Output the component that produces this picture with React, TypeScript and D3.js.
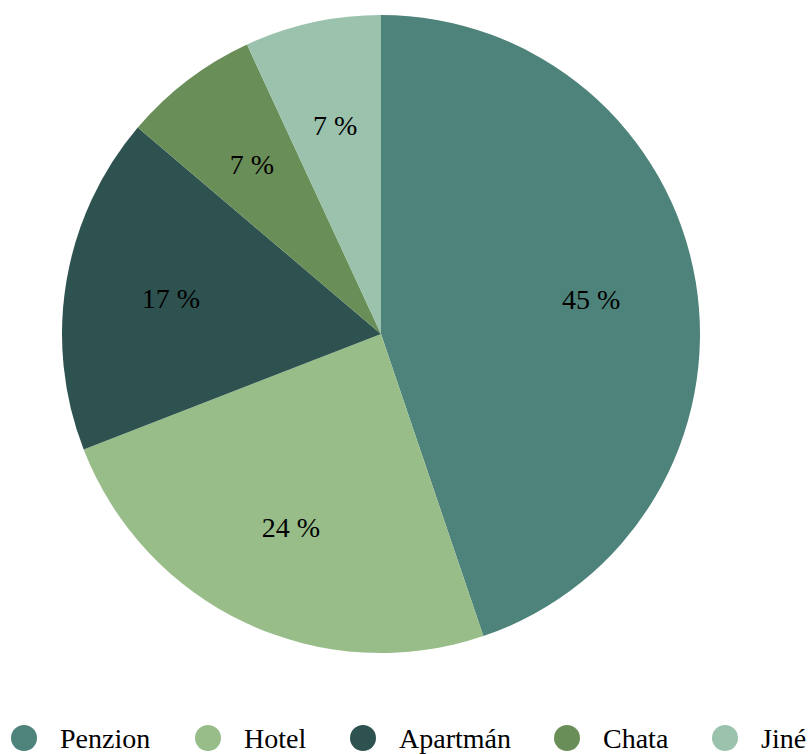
import React from "react";
import * as d3 from "d3";

const categories = ["Penzion", "Hotel", "Apartmán", "Chata", "Jiné"];
const values = [44.8, 24.3, 17.1, 6.9, 6.9];
const colors = ["#4d837a", "#98bd89", "#2e5250", "#6a8e57", "#9bc2ac"];

const W = 811;
const H = 754;
const cx = 381;
const cy = 334;
const R = 319;
const FONT = "Liberation Serif, DejaVu Serif, serif";

export default function App() {
  const pie = d3.pie<number>().sort(null).value((d) => d);
  const arcs = pie(values);
  const arc = d3.arc<d3.PieArcDatum<number>>().innerRadius(0).outerRadius(R);
  const labelArc = d3.arc<d3.PieArcDatum<number>>().innerRadius(R * 0.668).outerRadius(R * 0.668);
  const total = d3.sum(values);

  const legendX = [24, 208, 363, 567, 725];
  const legendY = 738;

  return (
    <svg
      width={W}
      height={H}
      style={{ position: "absolute", left: 0, top: 0, background: "#fff", fontFamily: FONT }}
    >
      <g transform={`translate(${cx},${cy})`}>
        {arcs.map((a, i) => (
          <path key={i} d={arc(a) || ""} fill={colors[i]} />
        ))}
        {arcs.map((a, i) => {
          const [x, y] = labelArc.centroid(a);
          return (
            <text
              key={"l" + i}
              x={x}
              y={y}
              textAnchor="middle"
              dominantBaseline="central"
              fontSize={28}
              fill="#000"
              style={{ fontFamily: FONT }}
            >
              {Math.round((a.data / total) * 100)} %
            </text>
          );
        })}
      </g>
      {categories.map((c, i) => (
        <g key={"lg" + i}>
          <circle cx={legendX[i]} cy={legendY} r={13} fill={colors[i]} />
          <text
            x={legendX[i] + 36}
            y={legendY}
            dominantBaseline="central"
            fontSize={28}
            fill="#000"
            style={{ fontFamily: FONT }}
          >
            {c}
          </text>
        </g>
      ))}
    </svg>
  );
}
